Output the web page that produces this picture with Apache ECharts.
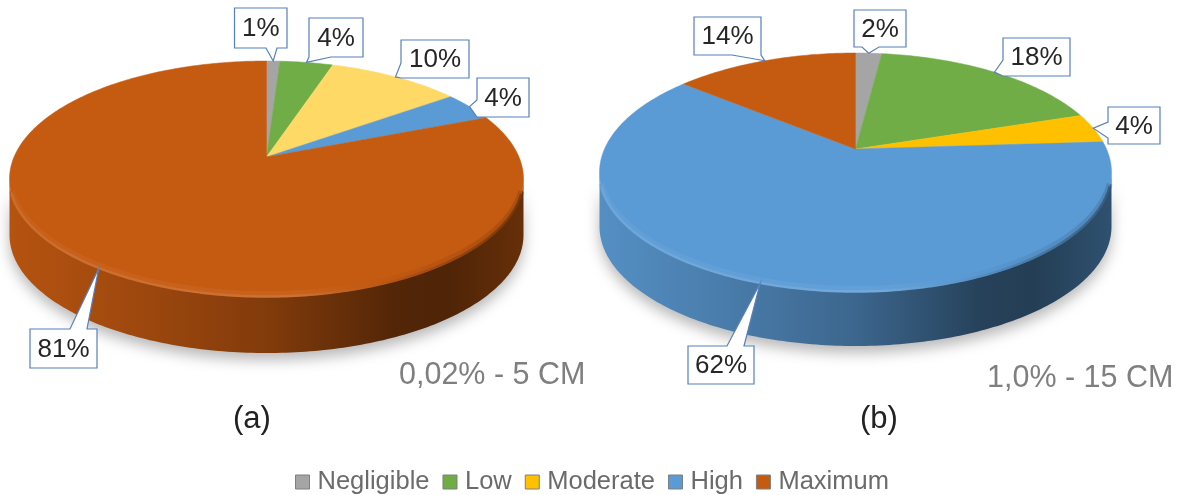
<!DOCTYPE html>
<html>
<head>
<meta charset="utf-8">
<style>html,body{margin:0;padding:0;background:#fff}#c{width:1178px;height:495px}</style>
<script src="https://cdn.jsdelivr.net/npm/echarts@6/dist/echarts.min.js"></script>
</head>
<body>
<div id="c"></div>
<script>
// ---- data ----
const categories = ['Negligible', 'Low', 'Moderate', 'High', 'Maximum'];
const panelAValues = [1, 4, 10, 4, 81];
const panelBValues = [2, 18, 4, 62, 14];
const panelNames = ['(a)', '(b)'];
const panelSubtitles = ['0,02% - 5 CM', '1,0% - 15 CM'];

// ---- styles and layout ----
const FONT = '"Liberation Sans", Arial, sans-serif';
const legendColors = ['#A5A5A5', '#70AD47', '#FFC000', '#5B9BD5', '#C55A11'];
const panelColors = [
  ['#A5A5A5', '#70AD47', '#FFD966', '#5B9BD5', '#C55A11'],
  legendColors
];
const panelValues = [panelAValues, panelBValues];
// pie frame: ellipse of the top face, apex offset from perspective, wall depth
const frames = [
  { cx: 266.5, cy: 179, rx: 257, ry: 118, apexY: 157, depth: 56 },
  { cx: 855.5, cy: 172.5, rx: 256, ry: 119.5, apexY: 149, depth: 54 }
];
// callout boxes; edge + b1/b2 say where the pointer leaves the box
const boxes = [
  [
    { x: 234.5, y: 8, w: 52.5, h: 40, edge: 'bottom', b1: 266, b2: 277 },
    { x: 309, y: 18, w: 54, h: 39, edge: 'bottom', b1: 309, b2: 331 },
    { x: 401, y: 40, w: 68, h: 38, edge: 'left', b1: 63, b2: 78 },
    { x: 477, y: 78, w: 52, h: 39, edge: 'left', b1: 100, b2: 117 },
    { x: 30, y: 329, w: 67, h: 39, edge: 'top', b1: 70, b2: 87 }
  ],
  [
    { x: 854, y: 10, w: 52, h: 37, edge: 'bottom', b1: 862, b2: 879 },
    { x: 1003, y: 38, w: 67, h: 38, edge: 'left', b1: 60, b2: 76 },
    { x: 1108, y: 107, w: 52, h: 37, edge: 'left', b1: 122, b2: 138 },
    { x: 688, y: 346, w: 66, h: 38, edge: 'top', b1: 727, b2: 744 },
    { x: 694, y: 17, w: 67, h: 38, edge: 'bottom', b1: 732, b2: 761 }
  ]
];
const BOX_BORDER = '#5680bb';

// ---- geometry: percent around the disk -> projected screen point ----
function project(f, pct) {
  const t = pct / 100 * Math.PI * 2;
  const X = Math.sin(t), Y = Math.cos(t);
  const a = (f.cy - f.apexY) / f.ry;
  const d = 1 + a * Y;
  return [f.cx + f.rx * X * Math.sqrt(1 - a * a) / d, f.cy - f.ry * (Y + a) / d];
}

// positive amount darkens towards black, negative lightens towards white
function shade(hex, amount) {
  const c = [1, 3, 5].map(i => parseInt(hex.substr(i, 2), 16));
  const m = c.map(v => Math.round(amount >= 0 ? v * (1 - amount) : v + (255 - v) * -amount));
  return 'rgb(' + m.join(',') + ')';
}

function renderSlice(catIndex) {
  return function (params, api) {
    const panel = api.value(0);
    const value = api.value(1);
    const values = panelValues[panel];
    const total = values.reduce((s, v) => s + v, 0);
    const start = values.slice(0, catIndex).reduce((s, v) => s + v, 0) / total * 100;
    const span = value / total * 100;
    const f = frames[panel];
    const color = panelColors[panel][catIndex];
    const children = [];

    const arc = [];
    const steps = Math.max(2, Math.ceil(span * 4));
    for (let i = 0; i <= steps; i++) arc.push(project(f, start + span * i / steps));

    // side wall: only the part of the rim on the near half
    const front = arc.filter(p => p[1] >= f.cy);
    if (front.length > 1) {
      const back = front.slice().reverse().map(p => [p[0], p[1] + f.depth]);
      children.push({
        type: 'polygon', z2: 1,
        shape: { points: front.concat(back) },
        style: {
          fill: {
            type: 'linear', global: true, x: f.cx - f.rx, y: 0, x2: f.cx + f.rx, y2: 0,
            colorStops: [
              { offset: 0, color: shade(color, 0.08) },
              { offset: 0.25, color: shade(color, 0.2) },
              { offset: 0.5, color: shade(color, 0.34) },
              { offset: 0.75, color: shade(color, 0.58) },
              { offset: 0.85, color: shade(color, 0.6) },
              { offset: 1, color: shade(color, 0.48) }
            ]
          },
          shadowBlur: 14, shadowOffsetY: 7, shadowColor: 'rgba(0,0,0,0.28)'
        }
      });
    }

    // top face
    const apex = [f.cx, f.apexY];
    children.push({
      type: 'polygon', z2: 2,
      shape: { points: [apex].concat(arc) },
      style: { fill: color, stroke: color, lineWidth: 0.5 }
    });

    // bevel highlight along the near edge, stopping short of the side extremes
    const rim = front.filter(p => p[1] >= f.cy + 14);
    if (rim.length > 1) {
      const rimGradient = {
        type: 'linear', global: true, x: f.cx - f.rx, y: 0, x2: f.cx + f.rx, y2: 0,
        colorStops: [
          { offset: 0, color: shade(color, -0.12) },
          { offset: 0.55, color: shade(color, -0.16) },
          { offset: 0.72, color: shade(color, 0.05) },
          { offset: 1, color: shade(color, 0.45) }
        ]
      };
      children.push({
        type: 'polyline', z2: 3,
        shape: { points: rim.map(p => [p[0], p[1] - 3]) },
        style: { fill: 'none', stroke: rimGradient, lineWidth: 6, opacity: 0.3 }
      });
      children.push({
        type: 'polyline', z2: 3,
        shape: { points: rim.map(p => [p[0], p[1] - 0.5]) },
        style: { fill: 'none', stroke: rimGradient, lineWidth: 2.5, opacity: 0.85 }
      });
    }

    // callout: pointer aims at the mid-angle of the slice on the rim
    const b = boxes[panel][catIndex];
    const tip = project(f, start + span / 2);
    const L = b.x, R = b.x + b.w, T = b.y, B = b.y + b.h;
    const pts = [[L, T]];
    if (b.edge === 'top') pts.push([b.b1, T], tip, [b.b2, T]);
    pts.push([R, T]);
    if (b.edge === 'right') pts.push([R, b.b1], tip, [R, b.b2]);
    pts.push([R, B]);
    if (b.edge === 'bottom') pts.push([b.b2, B], tip, [b.b1, B]);
    pts.push([L, B]);
    if (b.edge === 'left') pts.push([L, b.b2], tip, [L, b.b1]);
    children.push({
      type: 'polygon', z2: 4,
      shape: { points: pts },
      style: { fill: '#fff', stroke: BOX_BORDER, lineWidth: 1.2 }
    });
    children.push({
      type: 'text', z2: 5,
      style: {
        text: value + '%', x: (L + R) / 2, y: (T + B) / 2 + 1,
        textAlign: 'center', textVerticalAlign: 'middle',
        align: 'center', verticalAlign: 'middle',
        font: '26px ' + FONT, fill: '#262626'
      }
    });
    return { type: 'group', children };
  };
}

const chart = echarts.init(document.getElementById('c'));
chart.setOption({
  animation: false,
  backgroundColor: '#fff',
  legend: {
    left: 290, top: 464,
    itemWidth: 14, itemHeight: 14, itemGap: 13,
    selectedMode: false,
    icon: 'rect',
    textStyle: { fontFamily: FONT, fontSize: 25.5, color: '#6b6b6b', padding: [0, 0, 0, 3] },
    itemStyle: { borderColor: '#7f7f7f', borderWidth: 1 },
    data: categories
  },
  graphic: [
    { type: 'text', left: 399, top: 360, style: { text: panelSubtitles[0], font: '30.5px ' + FONT, fill: '#7f7f7f' } },
    { type: 'text', left: 987, top: 363, style: { text: panelSubtitles[1], font: '30.5px ' + FONT, fill: '#7f7f7f' } },
    { type: 'text', left: 233, top: 404, style: { text: panelNames[0], font: '31px ' + FONT, fill: '#222' } },
    { type: 'text', left: 860, top: 404, style: { text: panelNames[1], font: '31px ' + FONT, fill: '#222' } }
  ],
  series: categories.map((name, i) => ({
    type: 'custom',
    name,
    coordinateSystem: 'none',
    silent: true,
    itemStyle: { color: legendColors[i] },
    renderItem: renderSlice(i),
    data: [[0, panelAValues[i]], [1, panelBValues[i]]]
  }))
});
</script>
</body>
</html>
